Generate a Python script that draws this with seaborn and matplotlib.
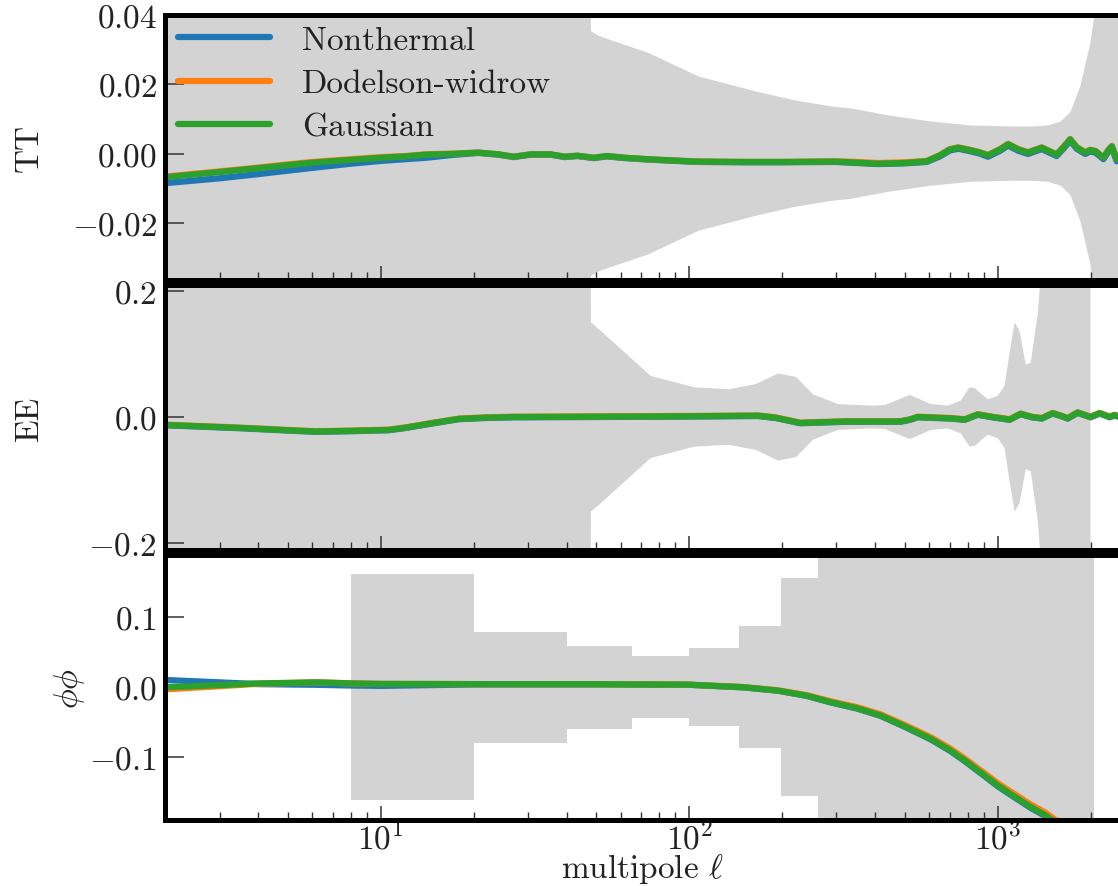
import numpy as np
import pandas as pd
import matplotlib
matplotlib.use("Agg")
import matplotlib.pyplot as plt
import seaborn as sns
from matplotlib.ticker import FixedLocator, FixedFormatter, LogLocator, NullFormatter, LogFormatterSciNotation

# ---------------- data ----------------
series_names = ["Nonthermal", "Dodelson-widrow", "Gaussian"]
series_colors = ["#1f77b4", "#ff7f0e", "#2ca02c"]

# TT relative difference
tt_ell = [2, 3, 4, 5, 6, 8, 10, 12, 14, 17, 20.7, 24, 27, 30.6, 35.5, 39.4, 43.4, 49, 54, 62, 73, 90,
          107, 150, 200, 300, 350, 409, 500, 589, 650, 700, 745, 813, 875, 930, 1018, 1081, 1167,
          1254, 1389, 1553, 1633, 1718, 1804, 1922, 1995, 2075, 2203, 2286, 2346, 2402, 2432, 2500]
tt_gaussian = [-0.0068, -0.0053, -0.0042, -0.0033, -0.0026, -0.0018, -0.0012, -0.0008, -0.0003, -0.0001,
               0.0003, -0.0002, -0.0009, -0.0002, -0.0002, -0.0009, -0.0006, -0.0012, -0.0007, -0.0012,
               -0.0016, -0.0020, -0.0023, -0.0024, -0.0024, -0.0023, -0.0026, -0.0029, -0.0027, -0.0022,
               -0.0005, 0.0012, 0.0017, 0.0010, 0.0003, -0.0005, 0.0012, 0.0027, 0.0012,
               0.0003, 0.0017, -0.0003, 0.0018, 0.0041, 0.0018, 0.0003, 0.0010, 0.0007, -0.0012, 0.0010,
               0.0021, -0.0004, -0.0016, -0.0008]
tt_dodelson = [-0.0066, -0.0051, -0.0040, -0.0031, -0.0024, -0.0016, -0.0010, -0.0007, -0.0002, 0.0000,
               0.0003, -0.0002, -0.0009, -0.0002, -0.0002, -0.0009, -0.0006, -0.0012, -0.0007, -0.0012,
               -0.0016, -0.0020, -0.0023, -0.0024, -0.0024, -0.0022, -0.0024, -0.0027, -0.0025, -0.0021,
               -0.0004, 0.0013, 0.0018, 0.0011, 0.0004, -0.0004, 0.0013, 0.0028, 0.0013,
               0.0004, 0.0018, -0.0002, 0.0019, 0.0042, 0.0019, 0.0004, 0.0011, 0.0008, -0.0011, 0.0011,
               0.0022, -0.0003, -0.0015, -0.0007]
tt_nonthermal = [-0.0085, -0.0071, -0.0059, -0.0049, -0.0041, -0.0029, -0.0021, -0.0016, -0.0012, -0.0004,
                 0.0002, -0.0003, -0.0010, -0.0003, -0.0003, -0.0010, -0.0007, -0.0013, -0.0008, -0.0013,
                 -0.0017, -0.0021, -0.0024, -0.0025, -0.0025, -0.0024, -0.0027, -0.0030, -0.0028, -0.0024,
                 -0.0008, 0.0009, 0.0014, 0.0007, 0.0000, -0.0009, 0.0008, 0.0023, 0.0008,
                 -0.0001, 0.0013, -0.0007, 0.0014, 0.0037, 0.0014, -0.0001, 0.0006, 0.0003, -0.0016, 0.0006,
                 0.0017, -0.0009, -0.0022, -0.0014]

tt_band_ell = [2, 47, 48, 51, 74, 107, 164, 220, 288, 334, 441, 600, 818, 1000, 1135, 1300, 1452, 1600,
               1723, 1857, 2000, 2075, 2200, 2500]
tt_band_sigma = [1.0, 1.0, 0.0352, 0.0338, 0.0289, 0.0222, 0.0179, 0.0153, 0.0136, 0.0130, 0.0110, 0.0093,
                 0.0081, 0.0079, 0.0078, 0.0078, 0.0081, 0.0092, 0.0120, 0.0196, 0.0320, 0.0420, 0.0700, 0.1500]

# EE relative difference
ee_ell = [2, 3.5, 5, 6.15, 8, 10.6, 12, 15, 17.9, 22, 27, 50, 100, 167, 190, 229, 260, 327, 485, 520, 551,
          700, 782, 862, 960, 1094, 1187, 1290, 1392, 1508, 1600, 1687, 1818, 2000, 2140, 2310, 2390, 2500]
ee_gaussian = [-0.0126, -0.0173, -0.0210, -0.0230, -0.0220, -0.0205, -0.0170, -0.0090, -0.0030, -0.0010,
               0.0000, 0.0005, 0.0012, 0.0020, -0.0010, -0.0094, -0.0085, -0.0070, -0.0070, -0.0040, 0.0000,
               -0.0020, -0.0040, 0.0040, 0.0000, -0.0040, 0.0050, 0.0000, -0.0020, 0.0060, 0.0020, -0.0020,
               0.0070, 0.0000, 0.0060, 0.0000, 0.0030, 0.0000]
ee_dodelson = [v + 0.0005 for v in ee_gaussian]
ee_nonthermal = [v - 0.0005 for v in ee_gaussian]

ee_band_ell = [2, 47, 48, 51, 75, 104, 134, 164, 194, 222, 252, 303, 388, 431, 519, 607, 689, 759, 811, 843,
               929, 1000, 1052, 1100, 1135, 1178, 1233, 1280, 1350, 1390, 2000]
ee_band_sigma = [1.0, 1.0, 0.150, 0.139, 0.065, 0.047, 0.044, 0.052, 0.069, 0.0635, 0.036, 0.0205, 0.018,
                 0.019, 0.035, 0.0205, 0.018, 0.026, 0.047, 0.0457, 0.028, 0.0335, 0.049, 0.110, 0.150, 0.136,
                 0.083, 0.086, 0.165, 0.250, 1.0]

# lensing (phi phi) relative difference
pp_ell = [2, 3, 4, 6.2, 8, 10, 20, 50, 99, 150, 194, 240, 288, 350, 418, 500, 607, 700, 782, 900, 1000,
          1130, 1280, 1430, 1600, 1800]
pp_gaussian = [0.0000, 0.0030, 0.0055, 0.0070, 0.0055, 0.0048, 0.0045, 0.0043, 0.0037, 0.0000, -0.0048,
               -0.0120, -0.0214, -0.0300, -0.0405, -0.0560, -0.0739, -0.0900, -0.1048, -0.1250, -0.1405,
               -0.1560, -0.1714, -0.1834, -0.1990, -0.2150]
pp_dodelson = [-0.0030, 0.0015, 0.0050, 0.0071, 0.0056, 0.0048, 0.0045, 0.0043, 0.0038, 0.0003, -0.0044,
               -0.0112, -0.0202, -0.0285, -0.0388, -0.0540, -0.0715, -0.0874, -0.1020, -0.1220, -0.1372,
               -0.1525, -0.1678, -0.1796, -0.1950, -0.2110]
pp_nonthermal = [0.0104, 0.0070, 0.0045, 0.0035, 0.0025, 0.0020, 0.0040, 0.0042, 0.0036, -0.0002, -0.0050,
                 -0.0123, -0.0218, -0.0305, -0.0411, -0.0567, -0.0747, -0.0909, -0.1058, -0.1261, -0.1417,
                 -0.1572, -0.1727, -0.1847, -0.2003, -0.2163]

pp_band_edges = [8, 20, 40, 65, 100, 145, 198, 262, 2048]
pp_band_sigma = [0.162, 0.0795, 0.0594, 0.0443, 0.0557, 0.0871, 0.1557, 1.0]

# axis text
panel_ylabels = ["TT", "EE", r"$\phi\phi$"]
tt_yticks = [0.04, 0.02, 0.00, -0.02]
tt_yticklabels = [r"$0.04$", r"$0.02$", r"$0.00$", r"$-0.02$"]
ee_yticks = [0.2, 0.0, -0.2]
ee_yticklabels = [r"$0.2$", r"$0.0$", r"$-0.2$"]
pp_yticks = [0.1, 0.0, -0.1]
pp_yticklabels = [r"$0.1$", r"$0.0$", r"$-0.1$"]
x_label = r"multipole $\ell$"

# ---------------- styling ----------------
sns.set_theme(style="ticks")
plt.rcParams.update({
    "font.family": "serif",
    "font.serif": ["cmr10"],
    "mathtext.fontset": "cm",
    "axes.formatter.use_mathtext": True,
    "axes.unicode_minus": True,
})

W, H = 1118, 887
fig = plt.figure(figsize=(W / 100, H / 100), dpi=100)

left_px, right_px = 165.3, 1120.4
panels_px = [(15.5, 280.5), (285.5, 550.5), (555.5, 821.0)]
axes = []
for top, bot in panels_px:
    ax = fig.add_axes([left_px / W, 1 - bot / H, (right_px - left_px) / W, (bot - top) / H])
    axes.append(ax)

band_color = "#d3d3d3"
lw = 4.5
FS = 24
tick_col = "#333333"
txt_col = "#222222"

# TT panel
ax = axes[0]
ax.fill_between(tt_band_ell, [-s for s in tt_band_sigma], tt_band_sigma, color=band_color, lw=0, zorder=0)
for name, col, vals in zip(series_names, series_colors, [tt_nonthermal, tt_dodelson, tt_gaussian]):
    df = pd.DataFrame({"ell": tt_ell, "val": vals})
    sns.lineplot(data=df, x="ell", y="val", ax=ax, color=col, lw=lw, label=name, sort=False, estimator=None)
ax.set_ylim(-0.0362, 0.04)

# EE panel
ax = axes[1]
ax.fill_between(ee_band_ell, [-s for s in ee_band_sigma], ee_band_sigma, color=band_color, lw=0, zorder=0)
for col, vals in zip(series_colors, [ee_nonthermal, ee_dodelson, ee_gaussian]):
    df = pd.DataFrame({"ell": ee_ell, "val": vals})
    sns.lineplot(data=df, x="ell", y="val", ax=ax, color=col, lw=lw, legend=False, sort=False, estimator=None)
ax.set_ylim(-0.21, 0.21)

# phi phi panel
ax = axes[2]
sig_step = pp_band_sigma + [pp_band_sigma[-1]]
ax.fill_between(pp_band_edges, [-s for s in sig_step], sig_step, step="post", color=band_color, lw=0, zorder=0)
for col, vals in zip(series_colors, [pp_nonthermal, pp_dodelson, pp_gaussian]):
    df = pd.DataFrame({"ell": pp_ell, "val": vals})
    sns.lineplot(data=df, x="ell", y="val", ax=ax, color=col, lw=lw, legend=False, sort=False, estimator=None)
ax.set_ylim(-0.19, 0.19)

yt = [(tt_yticks, tt_yticklabels), (ee_yticks, ee_yticklabels), (pp_yticks, pp_yticklabels)]
label_x = [-0.127, -0.127, -0.082]
for i, ax in enumerate(axes):
    ax.set_xscale("log")
    ax.set_xlim(2, 2500)
    ax.xaxis.set_major_locator(LogLocator(base=10, numticks=10))
    ax.xaxis.set_minor_locator(LogLocator(base=10, subs=np.arange(2, 10), numticks=20))
    ax.xaxis.set_minor_formatter(NullFormatter())
    ax.yaxis.set_major_locator(FixedLocator(yt[i][0]))
    ax.yaxis.set_major_formatter(FixedFormatter(yt[i][1]))
    ax.yaxis.set_minor_locator(FixedLocator([]))
    ax.tick_params(axis="y", which="major", direction="in", length=14, width=1.1, color=tick_col,
                   labelsize=FS, pad=6, left=True, right=False, labelcolor=txt_col)
    ax.tick_params(axis="x", which="major", direction="in", length=10, width=1.1, color=tick_col,
                   labelsize=FS, pad=-1, bottom=True, top=False, labelcolor=txt_col)
    ax.tick_params(axis="x", which="minor", direction="in", length=5.5, width=1.0, color=tick_col,
                   bottom=True, top=False)
    for sp in ax.spines.values():
        sp.set_linewidth(3.6)
        sp.set_color("black")
    ax.set_ylabel(panel_ylabels[i], fontsize=FS, color=txt_col)
    ax.yaxis.set_label_coords(label_x[i], 0.5)
    ax.set_xlabel("")
    if i < 2:
        ax.tick_params(axis="x", labelbottom=False)
    ax.set_facecolor("white")

axes[2].xaxis.set_major_formatter(LogFormatterSciNotation())
axes[2].set_xlabel(x_label, fontsize=FS, color=txt_col, labelpad=-2)

leg = axes[0].legend(loc="upper left", bbox_to_anchor=(13.0 / (right_px - left_px), 1 - 11.0 / 265.0),
                     borderaxespad=0.0, borderpad=0.0, frameon=False, fontsize=FS,
                     handlelength=2.75, handletextpad=0.95, labelspacing=0.42)
for t in leg.get_texts():
    t.set_color(txt_col)

fig.savefig("out.png", dpi=100)
